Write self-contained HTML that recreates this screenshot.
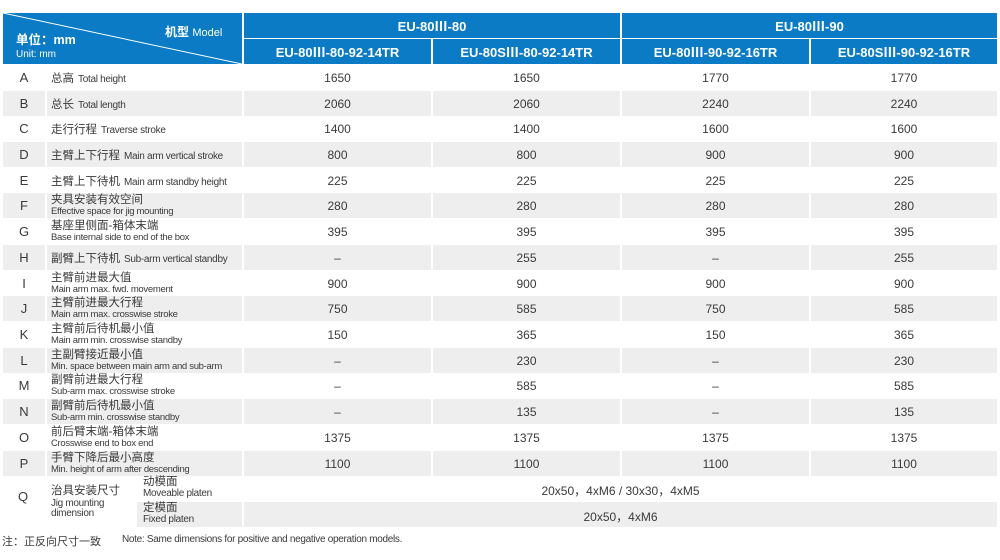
<!DOCTYPE html>
<html><head><meta charset="utf-8"><style>
*{margin:0;padding:0;box-sizing:border-box}
body{width:1000px;height:560px;background:#fff;position:relative;overflow:hidden;font-family:"Liberation Sans","Noto Sans CJK SC",sans-serif;color:#3a3a3a}
.a{position:absolute}
.h{background:#0a7bc4;color:#fff;font-weight:bold;font-size:13px;display:flex;align-items:center;justify-content:center}
.r{position:absolute;left:0;width:1000px;height:25px}
.r>div{position:absolute;top:0;height:25px;display:flex;align-items:center}
.g>div{background:#eeeeee}
.l{left:3px;width:42px;justify-content:center;font-size:13px}
.t{left:47px;width:195px;padding-left:4px;font-size:11.5px;white-space:nowrap}
.t small{font-size:10px;letter-spacing:-0.3px;margin-left:4px}
.t2{flex-direction:column;align-items:flex-start!important;justify-content:center;line-height:11px}
.t2 b{font-weight:normal;font-size:11.5px}
.t2 i{font-style:normal;font-size:9.5px;letter-spacing:-0.3px}
.v{justify-content:center;font-size:12px}
.c1{left:244px;width:187px}.c2{left:433px;width:187px}.c3{left:622px;width:187px}.c4{left:811px;width:186px}
</style></head><body>
<div class="a" style="left:3px;top:13px;width:239px;height:51px;background:#0a7bc4"></div>
<svg class="a" style="left:3px;top:13px" width="239" height="51"><line x1="0" y1="0" x2="239" y2="51" stroke="#fff" stroke-width="1"/></svg>
<div class="a" style="left:165px;top:25px;color:#fff;font-size:12px;line-height:14px;font-weight:bold">机型 <span style="font-weight:normal;font-size:11px">Model</span></div>
<div class="a" style="left:16px;top:33px;color:#fff;font-size:12.5px;line-height:15px;font-weight:bold">单位：mm</div>
<div class="a" style="left:16px;top:49px;color:#fff;font-size:10px;line-height:11px">Unit: mm</div>
<div class="a h" style="left:244px;top:13px;width:376px;height:25px">EU-80Ⅲ-80</div>
<div class="a h" style="left:622px;top:13px;width:375px;height:25px">EU-80Ⅲ-90</div>
<div class="a h" style="left:244px;top:39px;width:187px;height:25px">EU-80Ⅲ-80-92-14TR</div>
<div class="a h" style="left:433px;top:39px;width:187px;height:25px">EU-80SⅢ-80-92-14TR</div>
<div class="a h" style="left:622px;top:39px;width:187px;height:25px">EU-80Ⅲ-90-92-16TR</div>
<div class="a h" style="left:811px;top:39px;width:186px;height:25px">EU-80SⅢ-90-92-16TR</div>

<div class="r" style="top:65px"><div class="l">A</div><div class="t"><span>总高<small>Total height</small></span></div><div class="v c1">1650</div><div class="v c2">1650</div><div class="v c3">1770</div><div class="v c4">1770</div></div>
<div class="r g" style="top:91px"><div class="l">B</div><div class="t"><span>总长<small>Total length</small></span></div><div class="v c1">2060</div><div class="v c2">2060</div><div class="v c3">2240</div><div class="v c4">2240</div></div>
<div class="r" style="top:116px"><div class="l">C</div><div class="t"><span>走行行程<small>Traverse stroke</small></span></div><div class="v c1">1400</div><div class="v c2">1400</div><div class="v c3">1600</div><div class="v c4">1600</div></div>
<div class="r g" style="top:142px"><div class="l">D</div><div class="t"><span>主臂上下行程<small>Main arm vertical stroke</small></span></div><div class="v c1">800</div><div class="v c2">800</div><div class="v c3">900</div><div class="v c4">900</div></div>
<div class="r" style="top:168px"><div class="l">E</div><div class="t"><span>主臂上下待机<small>Main arm standby height</small></span></div><div class="v c1">225</div><div class="v c2">225</div><div class="v c3">225</div><div class="v c4">225</div></div>
<div class="r g" style="top:193px"><div class="l">F</div><div class="t t2"><b>夹具安装有效空间</b><i>Effective space for jig mounting</i></div><div class="v c1">280</div><div class="v c2">280</div><div class="v c3">280</div><div class="v c4">280</div></div>
<div class="r" style="top:219px"><div class="l">G</div><div class="t t2"><b>基座里侧面-箱体末端</b><i>Base internal side to end of the box</i></div><div class="v c1">395</div><div class="v c2">395</div><div class="v c3">395</div><div class="v c4">395</div></div>
<div class="r g" style="top:245px"><div class="l">H</div><div class="t"><span>副臂上下待机<small>Sub-arm vertical standby</small></span></div><div class="v c1">–</div><div class="v c2">255</div><div class="v c3">–</div><div class="v c4">255</div></div>
<div class="r" style="top:271px"><div class="l">I</div><div class="t t2"><b>主臂前进最大值</b><i>Main arm max. fwd. movement</i></div><div class="v c1">900</div><div class="v c2">900</div><div class="v c3">900</div><div class="v c4">900</div></div>
<div class="r g" style="top:296px"><div class="l">J</div><div class="t t2"><b>主臂前进最大行程</b><i>Main arm max. crosswise stroke</i></div><div class="v c1">750</div><div class="v c2">585</div><div class="v c3">750</div><div class="v c4">585</div></div>
<div class="r" style="top:322px"><div class="l">K</div><div class="t t2"><b>主臂前后待机最小值</b><i>Main arm min. crosswise standby</i></div><div class="v c1">150</div><div class="v c2">365</div><div class="v c3">150</div><div class="v c4">365</div></div>
<div class="r g" style="top:348px"><div class="l">L</div><div class="t t2"><b>主副臂接近最小值</b><i>Min. space between main arm and sub-arm</i></div><div class="v c1">–</div><div class="v c2">230</div><div class="v c3">–</div><div class="v c4">230</div></div>
<div class="r" style="top:373px"><div class="l">M</div><div class="t t2"><b>副臂前进最大行程</b><i>Sub-arm max. crosswise stroke</i></div><div class="v c1">–</div><div class="v c2">585</div><div class="v c3">–</div><div class="v c4">585</div></div>
<div class="r g" style="top:399px"><div class="l">N</div><div class="t t2"><b>副臂前后待机最小值</b><i>Sub-arm min. crosswise standby</i></div><div class="v c1">–</div><div class="v c2">135</div><div class="v c3">–</div><div class="v c4">135</div></div>
<div class="r" style="top:425px"><div class="l">O</div><div class="t t2"><b>前后臂末端-箱体末端</b><i>Crosswise end to box end</i></div><div class="v c1">1375</div><div class="v c2">1375</div><div class="v c3">1375</div><div class="v c4">1375</div></div>
<div class="r g" style="top:451px"><div class="l">P</div><div class="t t2"><b>手臂下降后最小高度</b><i>Min. height of arm after descending</i></div><div class="v c1">1100</div><div class="v c2">1100</div><div class="v c3">1100</div><div class="v c4">1100</div></div>

<div class="a" style="left:137px;top:502px;width:105px;height:25px;background:#eee"></div>
<div class="a" style="left:244px;top:502px;width:753px;height:25px;background:#eee"></div>
<div class="a" style="left:18px;top:489px;font-size:13px">Q</div>
<div class="a" style="left:51px;top:482px;font-size:11.5px">治具安装尺寸</div>
<div class="a" style="left:51px;top:499px;font-size:10px;line-height:10px;letter-spacing:-0.3px">Jig mounting<br>dimension</div>
<div class="a" style="left:143px;top:477px;font-size:11.5px;line-height:11px">动模面<br><span style="font-size:10px;letter-spacing:-0.3px">Moveable platen</span></div>
<div class="a" style="left:143px;top:503px;font-size:11.5px;line-height:11px">定模面<br><span style="font-size:10px;letter-spacing:-0.3px">Fixed platen</span></div>
<div class="a" style="left:244px;top:482px;width:753px;text-align:center;font-size:12px">20x50，4xM6 / 30x30，4xM5</div>
<div class="a" style="left:244px;top:508px;width:753px;text-align:center;font-size:12px">20x50，4xM6</div>
<div class="a" style="left:2px;top:533px;font-size:11px">注：正反向尺寸一致</div>
<div class="a" style="left:122px;top:534px;font-size:10px;letter-spacing:-0.3px">Note: Same dimensions for positive and negative operation models.</div>
</body></html>
